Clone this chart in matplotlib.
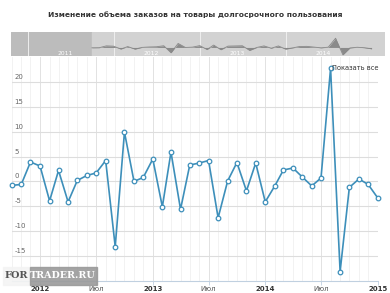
import numpy as np
import pandas as pd
import matplotlib
matplotlib.use("Agg")
import matplotlib.pyplot as plt
import matplotlib.dates as mdates

# изменение заказов на товары длительного пользования, % м/м
months = pd.date_range("2011-10-01", "2015-01-01", freq="MS")
values = [-0.8, -0.6, 3.9, 3.1, -3.9, 2.2, -4.1, 0.2, 1.2, 1.7, 4.2, -13.1, 9.9,
          0.0, 0.8, 4.5, -5.1, 5.9, -5.6, 3.3, 3.7, 4.2, -7.3, 0.1, 3.8, -1.9, 3.7,
          -4.1, -0.9, 2.3, 2.7, 0.9, -0.9, 0.7, 22.7, -18.1, -1.2, 0.5, -0.6, -3.3]
tick_dates = pd.to_datetime(["2012-01-01", "2012-07-01", "2013-01-01", "2013-07-01",
                             "2014-01-01", "2014-07-01", "2015-01-01"])
tick_labels = ["2012", "Июл", "2013", "Июл", "2014", "Июл", "2015"]
yticks = [-15, -10, -5, 0, 5, 10, 15, 20]
nav_years = ["2011", "2012", "2013", "2014"]
title = "Изменение объема заказов на товары долгосрочного пользования"

W, H = 390, 293
fig = plt.figure(figsize=(W / 100, H / 100), dpi=100)
fig.patch.set_facecolor("white")

def px(x0, y0, x1, y1):
    return [x0 / W, 1 - y1 / H, (x1 - x0) / W, (y1 - y0) / H]

fig.text(0.5, 1 - 15 / H, title, ha="center", va="center", fontsize=5.4,
         fontweight="bold", color="#333333")

# основной график
ax = fig.add_axes(px(11.7, 57, 377.7, 281))
x = mdates.date2num(months)
ax.set_xlim(x[0], x[-1])
ax.set_ylim(-20, 25)
for m in x:
    ax.axvline(m, color="#f0f0f0", lw=0.6, zorder=0)
for t in mdates.date2num(tick_dates):
    ax.axvline(t, color="#e2e2e2", lw=0.7, zorder=0)
for v in yticks:
    ax.axhline(v, color="#dddddd", lw=0.8, zorder=1)
    ax.text(x[0] + 8, v + 0.4, str(v), fontsize=5, color="#666666",
            ha="left", va="bottom")
ax.plot(x, values, color="#3d8fba", lw=1.2, marker="o", ms=3.3,
        mfc="white", mec="#3d8fba", mew=0.9, zorder=3, clip_on=False)
ax.set_yticks([])
ax.set_xticks(mdates.date2num(tick_dates))
ax.set_xticklabels(tick_labels)
ax.tick_params(axis="x", length=3, width=0.6, color="#c0d0e0", labelsize=5,
               labelcolor="#555555", pad=0.5)
for lbl in ax.get_xticklabels():
    if lbl.get_text() != "Июл":
        lbl.set_fontweight("bold")
        lbl.set_color("#333333")
for s in ["top", "left", "right"]:
    ax.spines[s].set_visible(False)
ax.spines["bottom"].set_color("#c0d0e0")
ax.spines["bottom"].set_linewidth(0.8)

i_max = int(np.argmax(values))
ax.text(x[i_max] + 5, values[i_max], "Показать все", fontsize=4.8, color="#333333",
        ha="left", va="center")

# навигатор
nav = fig.add_axes(px(11, 32, 385, 56))
start = x[0] - 11.3 * 30.44
end = x[0] + 40.9 * 30.44
nav.set_xlim(start, end)
nav.set_ylim(-21, 38)
nav.axvspan(start, x[0], color="#bcbcbc", zorder=0)
nav.axvspan(x[0], end, color="#d2d2d2", zorder=0)
nav.fill_between(x, 0, values, color="#8a8a8a", lw=0, zorder=2)
nav.plot(x, values, color="#888888", lw=0.6, zorder=2)
for i, yr in enumerate(nav_years):
    d = mdates.date2num(pd.Timestamp(f"{yr}-01-01"))
    nav.axvline(d, color="#eeeeee", lw=0.7, zorder=1)
    nav.text(d + 160, -14, yr, fontsize=4.3, color="white", ha="center", va="center")
nav.set_xticks([])
nav.set_yticks([])
for s in nav.spines.values():
    s.set_visible(False)

# водяной знак
fig.patches.append(plt.Rectangle((3 / W, 1 - 285 / H), 27 / W, 18 / H,
                                 transform=fig.transFigure, color="#f4f4f4", alpha=0.9))
fig.patches.append(plt.Rectangle((30 / W, 1 - 285 / H), 67 / W, 18 / H,
                                 transform=fig.transFigure, color="#9a9a9a", alpha=0.9))
fig.text(16 / W, 1 - 276 / H, "FOR", fontsize=7, family="DejaVu Serif",
         fontweight="bold", color="#555555", ha="center", va="center")
fig.text(63 / W, 1 - 276 / H, "TRADER.RU", fontsize=6.8, family="DejaVu Serif",
         fontweight="bold", color="white", ha="center", va="center")

fig.savefig("out.png", dpi=100)
